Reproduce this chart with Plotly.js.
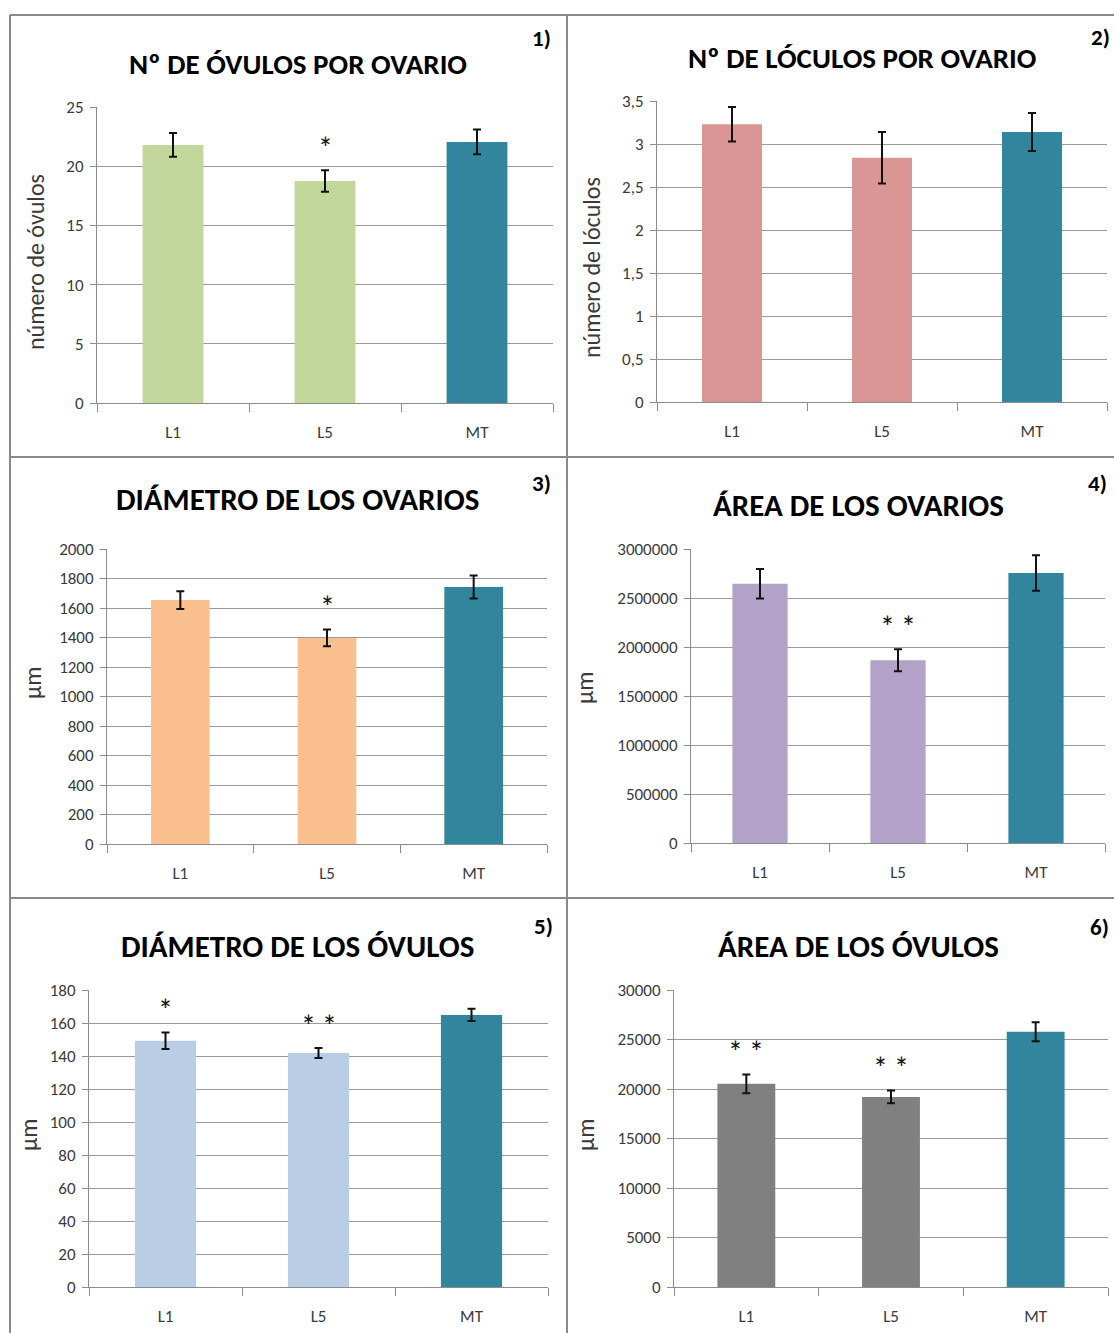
<!DOCTYPE html>
<html>
<head>
<meta charset="utf-8">
<script src="https://cdn.plot.ly/plotly-3.0.1.min.js"></script>
<style>
html,body{margin:0;padding:0;background:#fff;}
#chart{width:1114px;height:1333px;}
</style>
</head>
<body>
<div id="chart"></div>
<script>
// ---------- data ----------
const categories = ['L1', 'L5', 'MT'];

const ovulosPorOvario = [21.8, 18.75, 22.05];
const ovulosPorOvarioErr = [1.0, 0.9, 1.05];
const ovulosPorOvarioSig = ['', '*', ''];

const loculosPorOvario = [3.23, 2.84, 3.14];
const loculosPorOvarioErr = [0.2, 0.3, 0.22];
const loculosPorOvarioSig = ['', '', ''];

const diametroOvarios = [1654, 1397, 1742];
const diametroOvariosErr = [60, 57, 78];
const diametroOvariosSig = ['', '*', ''];

const areaOvarios = [2645000, 1865000, 2755000];
const areaOvariosErr = [150000, 112000, 180000];
const areaOvariosSig = ['', '**', ''];

const diametroOvulos = [149.2, 141.8, 164.9];
const diametroOvulosErr = [5.0, 3.0, 3.7];
const diametroOvulosSig = ['*', '**', ''];

const areaOvulos = [20520, 19200, 25780];
const areaOvulosErr = [950, 650, 950];
const areaOvulosSig = ['**', '**', ''];

const titles = ['Nº DE ÓVULOS POR OVARIO', 'Nº DE LÓCULOS POR OVARIO', 'DIÁMETRO DE LOS OVARIOS',
                'ÁREA DE LOS OVARIOS', 'DIÁMETRO DE LOS ÓVULOS', 'ÁREA DE LOS ÓVULOS'];
const panelLabels = ['1)', '2)', '3)', '4)', '5)', '6)'];
const yTitles = ['número de óvulos', 'número de lóculos', 'µm', 'µm', 'µm', 'µm'];

const tickVals1 = [0, 5, 10, 15, 20, 25];
const tickText1 = ['0', '5', '10', '15', '20', '25'];
const tickVals2 = [0, 0.5, 1, 1.5, 2, 2.5, 3, 3.5];
const tickText2 = ['0', '0,5', '1', '1,5', '2', '2,5', '3', '3,5'];
const tickVals3 = [0, 200, 400, 600, 800, 1000, 1200, 1400, 1600, 1800, 2000];
const tickText3 = ['0', '200', '400', '600', '800', '1000', '1200', '1400', '1600', '1800', '2000'];
const tickVals4 = [0, 500000, 1000000, 1500000, 2000000, 2500000, 3000000];
const tickText4 = ['0', '500000', '1000000', '1500000', '2000000', '2500000', '3000000'];
const tickVals5 = [0, 20, 40, 60, 80, 100, 120, 140, 160, 180];
const tickText5 = ['0', '20', '40', '60', '80', '100', '120', '140', '160', '180'];
const tickVals6 = [0, 5000, 10000, 15000, 20000, 25000, 30000];
const tickText6 = ['0', '5000', '10000', '15000', '20000', '25000', '30000'];

const barColors = [
  ['#C3D69B', '#C3D69B', '#31859C'],
  ['#D99694', '#D99694', '#31859C'],
  ['#FAC090', '#FAC090', '#31859C'],
  ['#B3A2C7', '#B3A2C7', '#31859C'],
  ['#B9CDE5', '#B9CDE5', '#31859C'],
  ['#808080', '#808080', '#31859C']
];

// ---------- layout geometry (pixels) ----------
const W = 1114, H = 1333;
const panels = [
  {x: [97, 553],  y: [107, 403], title: [298, 64, 29], lab: [541, 38], yt: [35, 262]},
  {x: [657, 1107], y: [101, 402], title: [862, 58, 29], lab: [1100, 37], yt: [591, 268]},
  {x: [107, 547], y: [549, 844], title: [297, 499, 31], lab: [541, 483], yt: [32, 683]},
  {x: [691, 1105], y: [549, 843], title: [858, 505, 31], lab: [1097, 483], yt: [584, 688]},
  {x: [89, 548],  y: [990, 1287], title: [297, 946, 31], lab: [543, 926], yt: [28, 1135]},
  {x: [674, 1108], y: [990, 1287], title: [858, 946, 31], lab: [1099, 927], yt: [585, 1135]}
];
const px = v => v / W;
const py = v => 1 - v / H;

const series = [
  [ovulosPorOvario, ovulosPorOvarioErr, ovulosPorOvarioSig, [0, 25], tickVals1, tickText1],
  [loculosPorOvario, loculosPorOvarioErr, loculosPorOvarioSig, [0, 3.5], tickVals2, tickText2],
  [diametroOvarios, diametroOvariosErr, diametroOvariosSig, [0, 2000], tickVals3, tickText3],
  [areaOvarios, areaOvariosErr, areaOvariosSig, [0, 3000000], tickVals4, tickText4],
  [diametroOvulos, diametroOvulosErr, diametroOvulosSig, [0, 180], tickVals5, tickText5],
  [areaOvulos, areaOvulosErr, areaOvulosSig, [0, 30000], tickVals6, tickText6]
];

const FONT = 'Carlito, "Liberation Sans Narrow", "DejaVu Sans Condensed", "Open Sans", sans-serif';
const TXT = '#3a3a3a';
const traces = [];
const layout = {
  width: W, height: H,
  margin: {l: 0, r: 0, t: 0, b: 0},
  paper_bgcolor: '#ffffff',
  plot_bgcolor: 'rgba(0,0,0,0)',
  showlegend: false,
  font: {family: FONT, color: TXT, size: 17},
  annotations: [],
  shapes: []
};

series.forEach((s, i) => {
  const n = i + 1;
  const xa = 'x' + (n === 1 ? '' : n), ya = 'y' + (n === 1 ? '' : n);
  traces.push({
    type: 'bar', x: categories, y: s[0],
    xaxis: xa, yaxis: ya,
    width: 0.4,
    marker: {color: barColors[i], line: {width: 0}},
    error_y: {type: 'data', array: s[1], visible: true, color: '#111', thickness: 2, width: 4},
    hoverinfo: 'none'
  });
  const p = panels[i];
  layout['xaxis' + (n === 1 ? '' : n)] = {
    domain: [px(p.x[0]), px(p.x[1])],
    anchor: ya,
    type: 'category',
    range: [-0.5, 2.5],
    showline: true, linecolor: '#8c8c8c', linewidth: 1,
    ticks: 'outside', ticklen: 8, tickcolor: '#8c8c8c', tickwidth: 1,
    tickson: 'boundaries',
    showgrid: false, zeroline: false,
    tickfont: {family: FONT, size: 17, color: TXT},
    ticklabelstandoff: 14,
    fixedrange: true
  };
  layout['yaxis' + (n === 1 ? '' : n)] = {
    domain: [py(p.y[1]), py(p.y[0])],
    anchor: xa,
    range: s[3],
    tickmode: 'array', tickvals: s[4], ticktext: s[5],
    showline: true, linecolor: '#8c8c8c', linewidth: 1,
    ticks: 'outside', ticklen: 6, tickcolor: '#8c8c8c', tickwidth: 1,
    showgrid: true, gridcolor: '#9a9a9a', gridwidth: 1,
    zeroline: false,
    tickfont: {family: FONT, size: 17, color: TXT},
    ticklabelstandoff: 3,
    fixedrange: true
  };
  // title
  layout.annotations.push({
    xref: 'paper', yref: 'paper', x: px(p.title[0]), y: py(p.title[1]),
    xanchor: 'center', yanchor: 'middle', showarrow: false,
    text: '<b>' + titles[i] + '</b>',
    font: {family: FONT, size: p.title[2], color: '#000'}
  });
  // panel label
  layout.annotations.push({
    xref: 'paper', yref: 'paper', x: px(p.lab[0]), y: py(p.lab[1]),
    xanchor: 'center', yanchor: 'middle', showarrow: false,
    text: '<b>' + panelLabels[i] + '</b>',
    font: {family: FONT, size: 23, color: '#000'}
  });
  // y title
  layout.annotations.push({
    xref: 'paper', yref: 'paper', x: px(p.yt[0]), y: py(p.yt[1]),
    xanchor: 'center', yanchor: 'middle', showarrow: false, textangle: -90,
    text: yTitles[i],
    font: {family: FONT, size: 24, color: TXT}
  });
  // significance marks
  s[2].forEach((sig, k) => {
    if (!sig) return;
    layout.annotations.push({
      xref: xa, yref: ya, x: categories[k], y: s[0][k] + s[1][k],
      xanchor: 'center', yanchor: 'middle', yshift: 22, showarrow: false,
      text: sig.split('').join('\u2009'),
      font: {family: FONT, size: 30, color: '#111'}
    });
  });
});

// panel borders
const bc = '#8a8a8a';
const line = (x0, y0, x1, y1) => ({type: 'line', xref: 'paper', yref: 'paper',
  x0: px(x0), y0: py(y0), x1: px(x1), y1: py(y1), line: {color: bc, width: 2}});
layout.shapes.push(line(10, 15, 1114, 15));
layout.shapes.push(line(10, 457, 1114, 457));
layout.shapes.push(line(10, 898, 1114, 898));
layout.shapes.push(line(10, 15, 10, 1333));
layout.shapes.push(line(567, 15, 567, 1333));

Plotly.newPlot('chart', traces, layout, {displayModeBar: false, staticPlot: true});
</script>
</body>
</html>
